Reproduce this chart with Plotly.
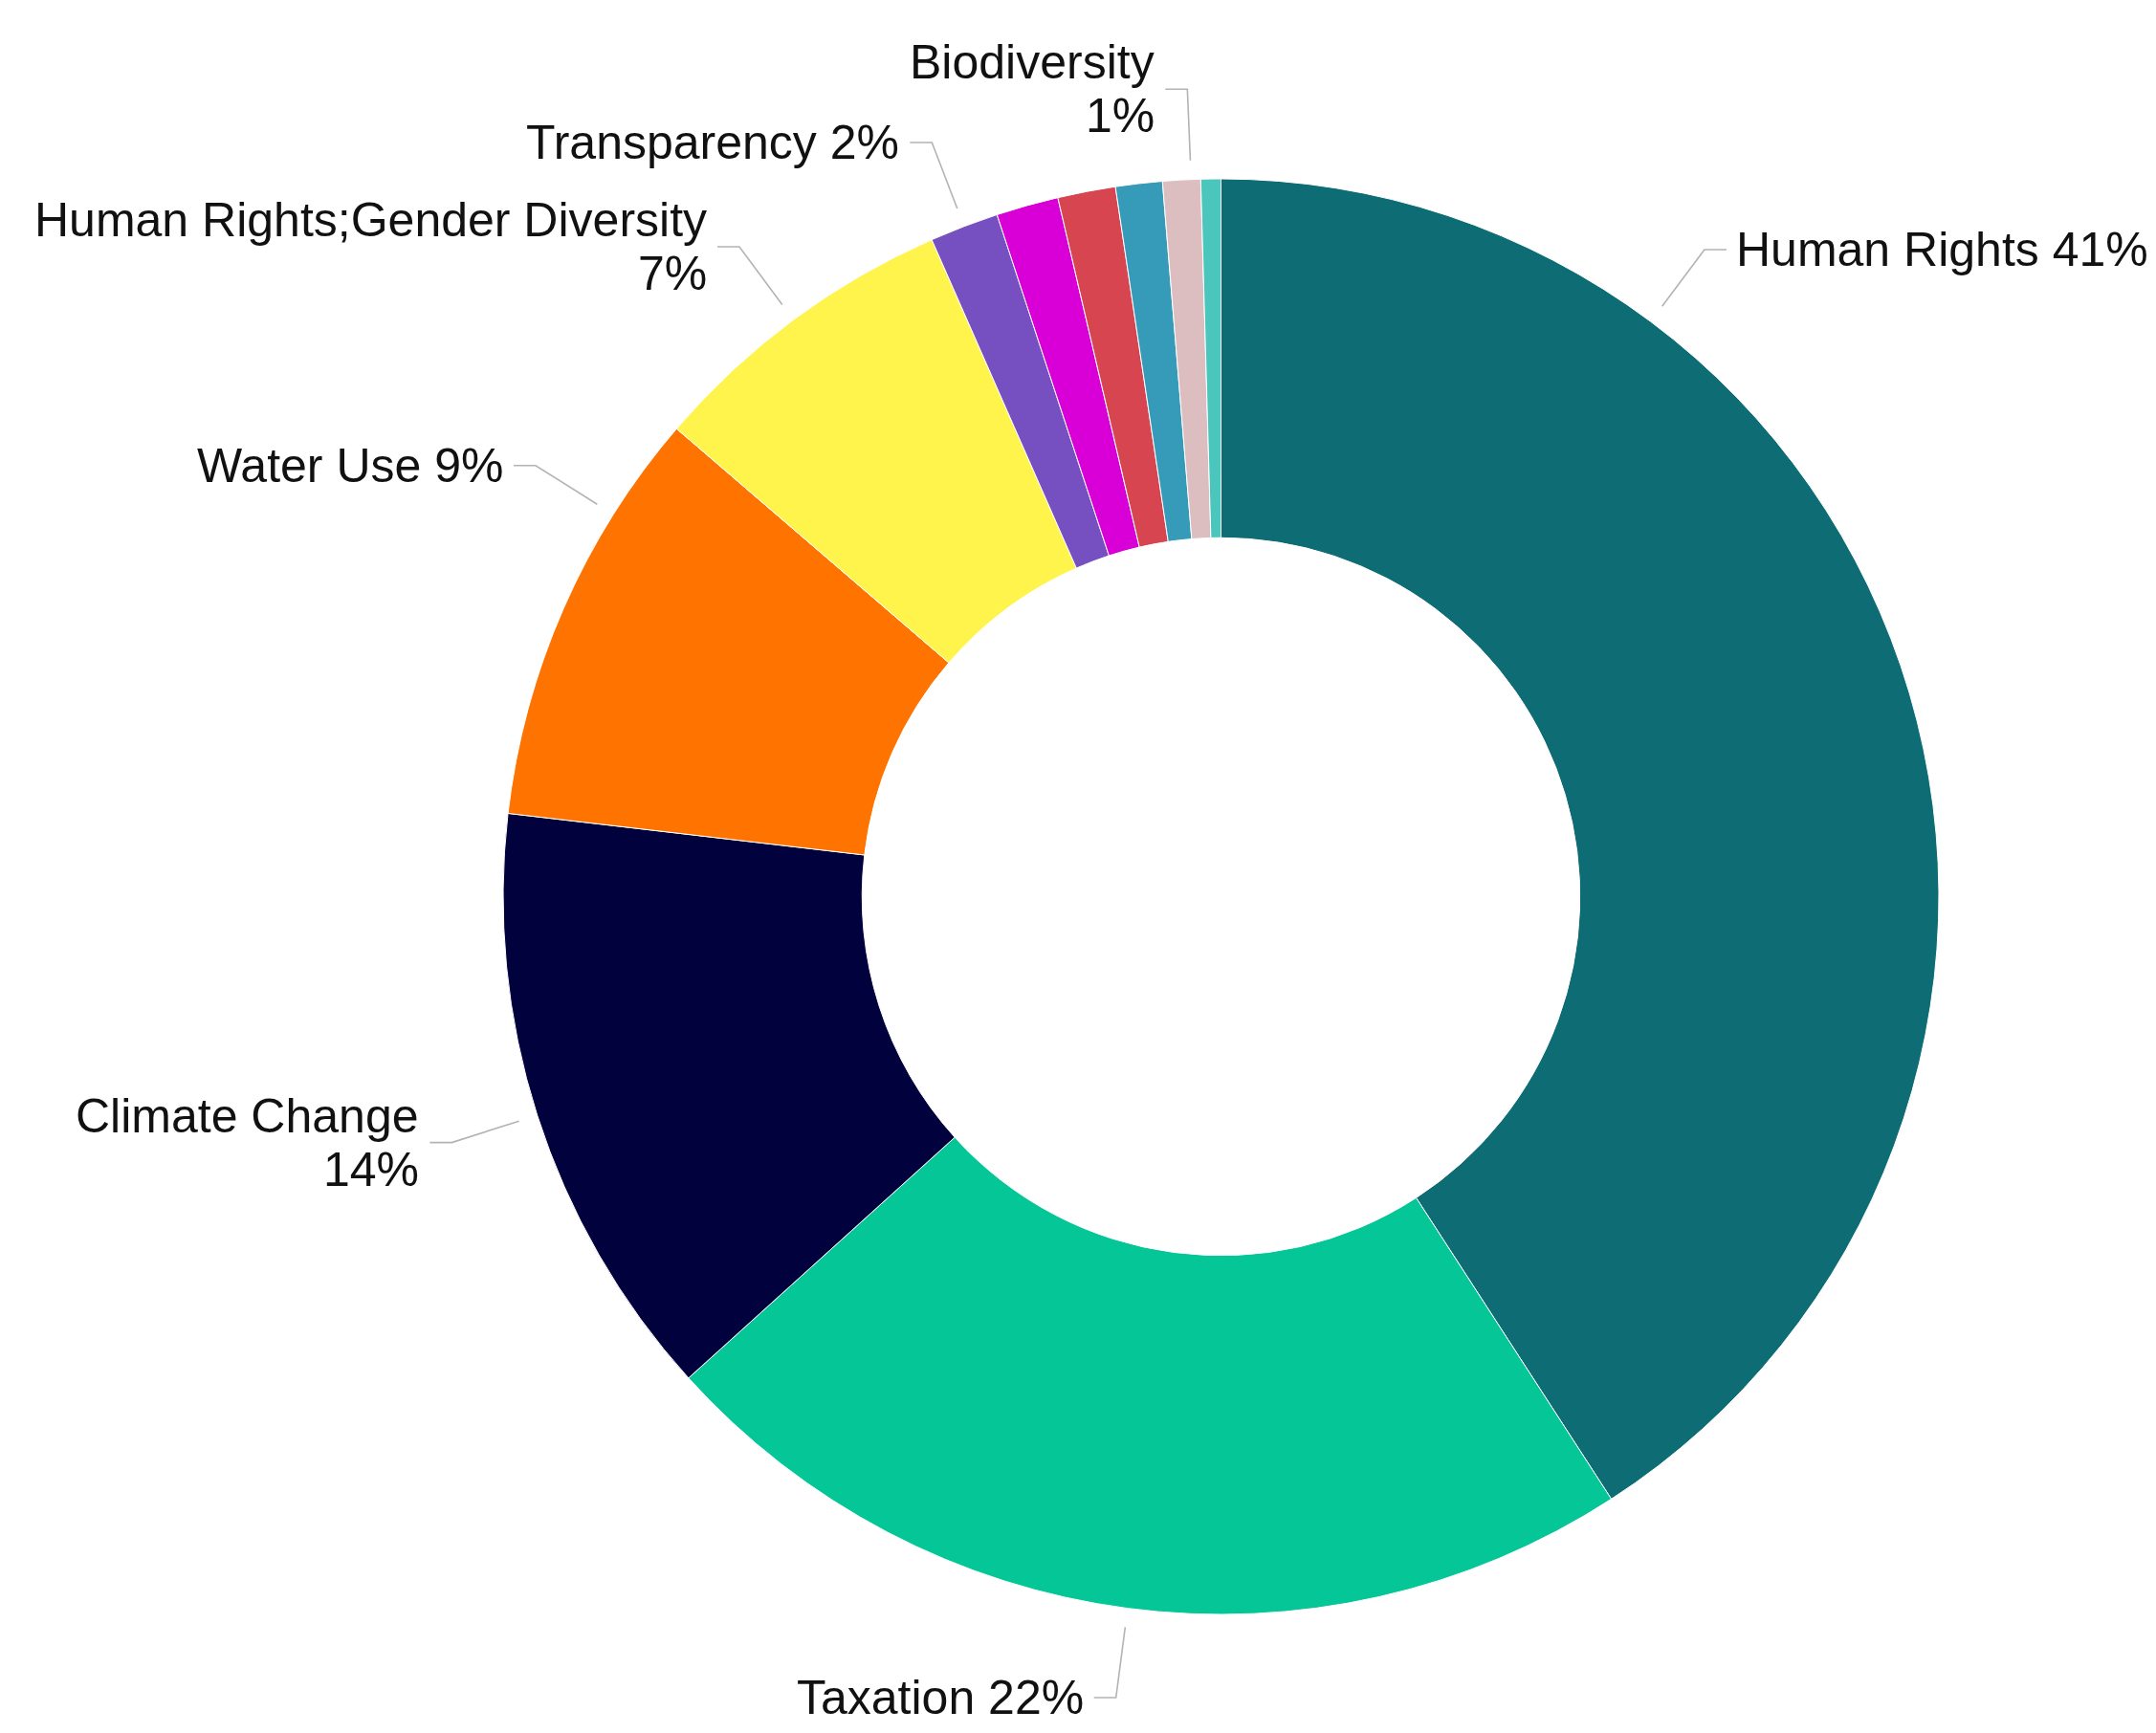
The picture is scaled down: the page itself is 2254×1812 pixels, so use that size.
import math
import plotly.graph_objects as go

# page size and the default 8px body margin of the exported page
W, H = 2254, 1812
PAD = 8

topics = [
    'Human Rights', 'Taxation', 'Climate Change', 'Water Use',
    'Human Rights;Gender Diversity', 'Transparency', 'Labour Rights',
    'Anti-Corruption', 'Pollution', 'Biodiversity', 'Supply Chain',
]
shares = [40.85, 22.45, 13.55, 9.45, 7.1, 1.55, 1.4, 1.3, 1.05, 0.85, 0.45]
colors = [
    '#0E6C74', '#04C696', '#01013D', '#FF7300', '#FFF44C', '#7650C0',
    '#D800D6', '#D64550', '#369BB9', '#DDBEC0', '#4BC6BC',
]

# outside labels: (connector height in px, wrap value onto 2nd line, anchor position inside slice)
label_layout = {
    'Human Rights': (261, False, 0.25),
    'Taxation': (1775, False, 0.5),
    'Climate Change': (1194.6, True, 0.5),
    'Water Use': (486.7, False, 0.75),
    'Human Rights;Gender Diversity': (258, True, 0.5),
    'Transparency': (149, False, 0.5),
    'Biodiversity': (93.3, True, 0.75),
}

CX, CY, R = 1276.5, 937.5, 750.5
FONT = dict(family='Liberation Sans, Arial, sans-serif', size=50, color='#111111')
LINE_GAP = 56
CONNECTOR = dict(color='#b3b3b3', width=1.6)


def px_x(x):
    return (x - PAD) / (W - 2 * PAD)


def px_y(y):
    return (H - PAD - y) / (H - 2 * PAD)


fig = go.Figure(go.Pie(
    labels=topics,
    values=shares,
    hole=0.5,
    sort=False,
    direction='clockwise',
    rotation=0,
    textinfo='none',
    marker=dict(colors=colors, line=dict(color='white', width=1)),
    domain=dict(x=[px_x(CX - R), px_x(CX + R)], y=[px_y(CY + R), px_y(CY - R)]),
    hovertemplate='%{label}<br>%{percent}<extra></extra>',
    showlegend=False,
))

shapes, annotations = [], []
total = sum(shares)
start = 0.0
for name, v in zip(topics, shares):
    span = v / total * 360
    if name in label_layout:
        y_lab, wrap, frac = label_layout[name]
        th = math.radians(start + frac * span)
        ax = CX + (R + 20) * math.sin(th)
        ay = CY - (R + 20) * math.cos(th)
        s = (CY - y_lab) / math.cos(th)
        bx = CX + s * math.sin(th)
        side = 1 if math.sin(th) > 0 else -1
        ex = bx + side * 23
        shapes.append(dict(
            type='path', xref='x', yref='y',
            path=f'M {ax},{ay} L {bx},{y_lab} L {ex},{y_lab}',
            line=CONNECTOR,
        ))
        pct = f'{round(v / total * 100)}%'
        lines = [name, pct] if wrap else [f'{name} {pct}']
        n = len(lines)
        for i, txt in enumerate(lines):
            annotations.append(dict(
                x=bx + side * (33 if side > 0 else 34),
                y=y_lab + (i - (n - 1) / 2) * LINE_GAP,
                xref='x', yref='y', text=txt, showarrow=False,
                xanchor='left' if side > 0 else 'right', yanchor='middle',
                borderpad=0, borderwidth=0, font=FONT,
            ))
    start += span

fig.update_layout(
    width=W - 2 * PAD,
    height=H - 2 * PAD,
    margin=dict(l=0, r=0, t=0, b=0),
    paper_bgcolor='white',
    plot_bgcolor='rgba(0,0,0,0)',
    xaxis=dict(range=[PAD, W - PAD], visible=False, fixedrange=True),
    yaxis=dict(range=[H - PAD, PAD], visible=False, fixedrange=True),
    shapes=shapes,
    annotations=annotations,
)

fig.write_html('out.html')
